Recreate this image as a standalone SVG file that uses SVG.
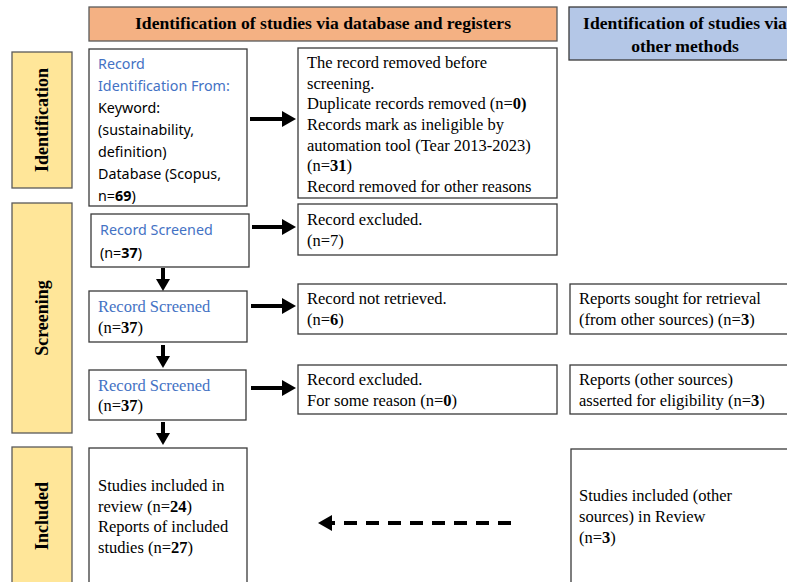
<svg xmlns="http://www.w3.org/2000/svg" width="787" height="582" viewBox="0 0 787 582">
<style>
.box{fill:#fff;stroke:#3a3a3a;stroke-width:1.3}
.side{fill:#FFE699;stroke:#5a5a5a;stroke-width:1.3}
.hdr{font-family:"Liberation Serif",serif;font-weight:bold;font-size:17.6px;fill:#000}
.sidet{font-family:"Liberation Serif",serif;font-weight:bold;font-size:18px;fill:#000}
.t{font-family:"Liberation Serif",serif;font-size:16.5px;fill:#000}
.c{font-family:"Noto Sans","Open Sans",sans-serif;font-size:14.3px;fill:#000}
.blue{fill:#4472C4}
.b{font-weight:bold}
.arr{stroke:#000;stroke-width:4;fill:none}
</style>
<defs>
<marker id="ah" markerUnits="userSpaceOnUse" markerWidth="14" markerHeight="16" refX="0" refY="8" orient="auto">
<polygon points="0,0 14,8 0,16" fill="#000"/>
</marker>
<marker id="ahs" markerUnits="userSpaceOnUse" markerWidth="12" markerHeight="14" refX="0" refY="7" orient="auto">
<polygon points="0,0 12,7 0,14" fill="#000"/>
</marker>
</defs>
<rect width="787" height="582" fill="#fff"/>

<g id="hdr-db">
<rect x="89" y="7" width="468" height="34" fill="#F4B183" stroke="#5a5a5a" stroke-width="1.3"/>
<text class="hdr" x="323" y="29" text-anchor="middle">Identification of studies via database and registers</text>
</g>
<g id="hdr-other">
<rect x="569" y="7" width="225" height="53" fill="#B4C7E7" stroke="#3a3a3a" stroke-width="1.3"/>
<text class="hdr" x="685" y="29" text-anchor="middle">Identification of studies via</text>
<text class="hdr" x="685" y="52" text-anchor="middle">other methods</text>
</g>

<g id="side-identification">
<rect class="side" x="12" y="52" width="60" height="136"/>
<text class="sidet" transform="translate(48,120) rotate(-90)" text-anchor="middle">Identification</text>
</g>
<g id="side-screening">
<rect class="side" x="12" y="203" width="60" height="230"/>
<text class="sidet" transform="translate(48,318) rotate(-90)" text-anchor="middle">Screening</text>
</g>
<g id="side-included">
<rect class="side" x="12" y="447" width="60" height="140"/>
<text class="sidet" transform="translate(48,516) rotate(-90)" text-anchor="middle">Included</text>
</g>

<g id="n-identified">
<rect class="box" x="89" y="49" width="158" height="157"/>
<text class="c blue" x="98" y="69">Record</text>
<text class="c blue" x="98" y="91">Identification From:</text>
<text class="c" x="98" y="113">Keyword:</text>
<text class="c" x="98" y="135">(sustainability,</text>
<text class="c" x="98" y="157">definition)</text>
<text class="c" x="98" y="179">Database (Scopus,</text>
<text class="c" x="98" y="201">n=<tspan class="b">69</tspan>)</text>
</g>
<g id="n-removed">
<rect class="box" x="298" y="48" width="259" height="150"/>
<text class="t" x="307" y="68">The record removed before</text>
<text class="t" x="307" y="89">screening.</text>
<text class="t" x="307" y="109">Duplicate records removed (n=<tspan class="b">0)</tspan></text>
<text class="t" x="307" y="130">Records mark as ineligible by</text>
<text class="t" x="307" y="151">automation tool (Tear 2013-2023)</text>
<text class="t" x="307" y="171">(n=<tspan class="b">31</tspan>)</text>
<text class="t" x="307" y="192">Record removed for other reasons</text>
</g>

<g id="n-screened1">
<rect class="box" x="91" y="214" width="158" height="53"/>
<text class="c blue" x="100" y="235">Record Screened</text>
<text class="c" x="100" y="258">(n=<tspan class="b">37</tspan>)</text>
</g>
<g id="n-excluded1">
<rect class="box" x="298" y="204" width="259" height="51"/>
<text class="t" x="307" y="225">Record excluded.</text>
<text class="t" x="307" y="246">(n=7)</text>
</g>

<g id="n-screened2">
<rect class="box" x="89" y="291" width="158" height="51"/>
<text class="t blue" x="98" y="312">Record Screened</text>
<text class="t" x="98" y="333">(n=<tspan class="b">37</tspan>)</text>
</g>
<g id="n-notretrieved">
<rect class="box" x="298" y="284" width="259" height="50"/>
<text class="t" x="307" y="304">Record not retrieved.</text>
<text class="t" x="307" y="325">(n=<tspan class="b">6</tspan>)</text>
</g>
<g id="n-sought-other">
<rect class="box" x="570" y="284" width="224" height="50"/>
<text class="t" x="579" y="304">Reports sought for retrieval</text>
<text class="t" x="579" y="325">(from other sources) (n=<tspan class="b">3</tspan>)</text>
</g>

<g id="n-screened3">
<rect class="box" x="89" y="370" width="157" height="50"/>
<text class="t blue" x="98" y="391">Record Screened</text>
<text class="t" x="98" y="411">(n=<tspan class="b">37</tspan>)</text>
</g>
<g id="n-excluded2">
<rect class="box" x="298" y="365" width="259" height="49"/>
<text class="t" x="307" y="385">Record excluded.</text>
<text class="t" x="307" y="406">For some reason (n=<tspan class="b">0</tspan>)</text>
</g>
<g id="n-eligibility-other">
<rect class="box" x="570" y="365" width="224" height="49"/>
<text class="t" x="579" y="385">Reports (other sources)</text>
<text class="t" x="579" y="406">asserted for eligibility (n=<tspan class="b">3</tspan>)</text>
</g>

<g id="n-included">
<rect class="box" x="89" y="448" width="158" height="140"/>
<text class="t" x="98" y="491">Studies included in</text>
<text class="t" x="98" y="512">review (n=<tspan class="b">24</tspan>)</text>
<text class="t" x="98" y="532">Reports of included</text>
<text class="t" x="98" y="553">studies (n=<tspan class="b">27</tspan>)</text>
</g>
<g id="n-included-other">
<rect class="box" x="571" y="449" width="223" height="140"/>
<text class="t" x="579" y="501">Studies included (other</text>
<text class="t" x="579" y="522">sources) in Review</text>
<text class="t" x="579" y="543">(n=<tspan class="b">3</tspan>)</text>
</g>

<g id="connectors">
<line class="arr" x1="250" y1="119" x2="282" y2="119" marker-end="url(#ah)"/>
<line class="arr" x1="252" y1="227" x2="282" y2="227" marker-end="url(#ah)"/>
<line class="arr" x1="251" y1="306" x2="282" y2="306" marker-end="url(#ah)"/>
<line class="arr" x1="251" y1="388" x2="282" y2="388" marker-end="url(#ah)"/>
<line class="arr" x1="163" y1="268" x2="163" y2="279" marker-end="url(#ahs)"/>
<line class="arr" x1="163" y1="345" x2="163" y2="356" marker-end="url(#ahs)"/>
<line class="arr" x1="163" y1="422" x2="163" y2="433" marker-end="url(#ahs)"/>
<line class="arr" x1="511" y1="523" x2="332" y2="523" stroke-dasharray="13,9" marker-end="url(#ah)"/>
</g>
</svg>
